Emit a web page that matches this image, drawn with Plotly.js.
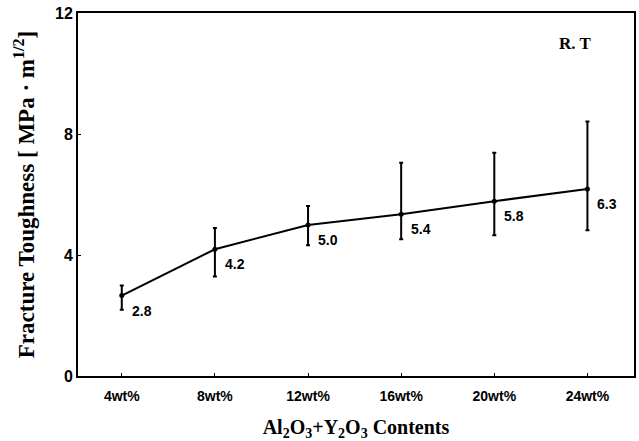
<!DOCTYPE html>
<html><head><meta charset="utf-8">
<script src="https://cdn.plot.ly/plotly-3.0.1.min.js"></script>
<style>html,body{margin:0;padding:0;background:#fff;}#chart{width:639px;height:441px;}</style>
</head><body><div id="chart"></div>
<script>
var categories = ['4wt%', '8wt%', '12wt%', '16wt%', '20wt%', '24wt%'];
var toughness = [2.66, 4.19, 4.99, 5.35, 5.78, 6.18];
var errPlus = [0.33, 0.70, 0.63, 1.70, 1.60, 2.23];
var errMinus = [0.47, 0.90, 0.67, 0.83, 1.13, 1.36];
var valueLabels = ['2.8', '4.2', '5.0', '5.4', '5.8', '6.3'];
var yTicks = [0, 4, 8, 12];

var trace = {
  x: categories, y: toughness, type: 'scatter', mode: 'lines+markers',
  line: {color: '#000', width: 2},
  marker: {color: '#000', size: 5},
  error_y: {type: 'data', symmetric: false, array: errPlus, arrayminus: errMinus,
    color: '#000', thickness: 2, width: 2},
  hoverinfo: 'skip'
};

var annotations = categories.map(function (c, i) {
  return {x: c, y: toughness[i], text: valueLabels[i], showarrow: false,
    xanchor: 'left', yanchor: 'top', xshift: 8, yshift: -5,
    font: {family: 'Liberation Sans, Arial, sans-serif', size: 14, color: '#000', weight: 'bold'}};
});
annotations.push({xref: 'paper', yref: 'paper', x: 0.893, y: 0.915, text: 'R. T', showarrow: false,
  xanchor: 'center', yanchor: 'middle',
  font: {family: 'Liberation Serif, Times New Roman, serif', size: 17, color: '#000', weight: 'bold'}});

var layout = {
  width: 639, height: 441,
  margin: {l: 78, r: 5, t: 13, b: 65},
  paper_bgcolor: '#fff', plot_bgcolor: '#fff',
  showlegend: false,
  xaxis: {
    type: 'category', range: [-0.47, 5.5],
    showline: true, mirror: true, linecolor: '#000', linewidth: 2,
    showgrid: false, zeroline: false,
    ticks: 'inside', ticklen: 3, tickcolor: '#000',
    ticklabelstandoff: 6,
    tickfont: {family: 'Liberation Sans, Arial, sans-serif', size: 14, color: '#000', weight: 'bold'},
    title: {text: 'Al<sub>2</sub>O<sub>3</sub>+Y<sub>2</sub>O<sub>3</sub> Contents', standoff: 18,
      font: {family: 'Liberation Serif, Times New Roman, serif', size: 20, color: '#000', weight: 'bold'}}
  },
  yaxis: {
    range: [0, 12], tickvals: yTicks, ticktext: yTicks.map(String),
    showline: true, mirror: true, linecolor: '#000', linewidth: 2,
    showgrid: false, zeroline: false,
    ticks: 'inside', ticklen: 3, tickcolor: '#000',
    tickfont: {family: 'Liberation Sans, Arial, sans-serif', size: 16, color: '#000', weight: 'bold'},
    title: {text: 'Fracture Toughness [ MPa · m<sup>1/2</sup>]', standoff: 14,
      font: {family: 'Liberation Serif, Times New Roman, serif', size: 23, color: '#000', weight: 'bold'}}
  },
  annotations: annotations
};

Plotly.newPlot('chart', [trace], layout, {displayModeBar: false, staticPlot: true});
</script>
</body></html>
